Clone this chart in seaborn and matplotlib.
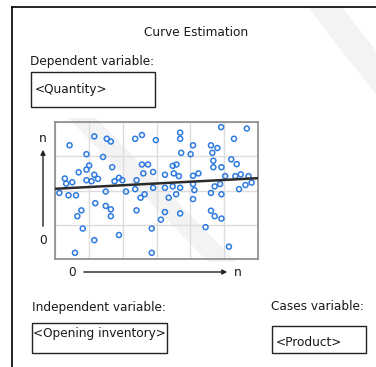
import matplotlib
matplotlib.use("Agg")
import matplotlib.pyplot as plt
import numpy as np
import pandas as pd
import seaborn as sns
from matplotlib.patches import Rectangle, FancyArrowPatch, Polygon

# scatter points (grid units: 6 columns x 4 rows)
opening_inventory = [
    0.43, 1.16, 1.53, 1.65, 2.37, 2.57, 2.98, 3.70, 3.70, 4.91, 5.67, 5.29,
    0.93, 1.42, 3.73, 4.08, 4.01, 4.61, 4.80, 4.65, 5.21, 4.68, 5.37,
    1.01, 0.93, 1.69, 0.70, 1.16, 1.08, 1.27, 0.93, 0.29, 0.33, 0.51,
    0.13, 0.40, 0.62, 1.76, 1.89, 1.99, 2.57, 2.75, 2.61, 2.90, 2.41,
    3.25, 3.48, 3.59, 3.51, 3.66, 4.08, 4.24, 4.68, 4.92, 5.03, 5.33,
    5.49, 5.72, 5.81, 5.63, 5.44, 4.88, 4.72, 4.08, 4.12, 4.61, 4.92,
    4.08, 1.50, 2.10, 2.37, 2.65, 2.53, 2.90, 3.25, 3.36, 3.48, 3.58,
    3.70, 1.19, 1.50, 1.65, 1.65, 0.78, 0.66, 2.41, 3.25, 3.13, 3.70,
    4.61, 4.72, 4.92, 0.82, 1.16, 1.89, 2.86, 4.45, 0.59, 2.86, 5.14,
]
quantity = [
    3.32, 3.58, 3.51, 3.43, 3.51, 3.62, 3.47, 3.69, 3.51, 3.85, 3.81, 3.51,
    3.06, 2.98, 3.10, 3.32, 3.06, 3.32, 3.24, 3.10, 2.91, 2.87, 2.77,
    2.73, 2.61, 2.68, 2.53, 2.46, 2.27, 2.34, 2.30, 2.35, 2.20, 2.24,
    1.93, 1.86, 1.86, 2.27, 2.37, 2.30, 2.76, 2.76, 2.50, 2.54, 2.30,
    2.46, 2.72, 2.76, 2.50, 2.42, 2.43, 2.50, 2.68, 2.68, 2.42, 2.42,
    2.47, 2.42, 2.23, 2.16, 2.04, 2.19, 2.12, 2.19, 2.01, 1.93, 1.89,
    1.75, 1.97, 1.97, 2.04, 1.89, 1.79, 2.08, 2.08, 1.79, 2.12, 1.89,
    2.08, 1.63, 1.55, 1.45, 1.25, 1.42, 1.25, 1.42, 1.37, 1.15, 1.33,
    1.41, 1.25, 1.18, 0.89, 0.55, 0.70, 0.89, 0.93, 0.18, 0.18, 0.36,
]
# fitted line, read at both ends of the plot
fit_x = [0, 6]
fit_y = [2.05, 2.36]

W, H = 376, 367


def fx(x):
    return x / W


def fy(y):
    return 1 - y / H


df = pd.DataFrame({"x": opening_inventory, "y": quantity})

fig = plt.figure(figsize=(W / 100, H / 100), dpi=100)
fig.patch.set_facecolor("white")

# faint watermark bands in the background
for pts in ([(308, 7), (342, 7), (376, 51), (376, 95)],
            [(68, 118), (96, 118), (236, 262), (208, 262)]):
    fig.add_artist(Polygon([(fx(a), fy(b)) for a, b in pts], closed=True,
                           transform=fig.transFigure, facecolor="#f3f3f3",
                           edgecolor="none", zorder=0))

# outer frame (top and left)
fig.add_artist(plt.Line2D([fx(12), fx(376)], [fy(7), fy(7)], color="black", lw=1.2))
fig.add_artist(plt.Line2D([fx(12), fx(12)], [fy(7), fy(367)], color="black", lw=1.2))

font = dict(family="DejaVu Sans", fontsize=8.7, color="#1a1a1a")

fig.text(fx(196), fy(33), "Curve Estimation", ha="center", va="center", **font)
fig.text(fx(30), fy(61), "Dependent variable:", ha="left", va="center", **font)
fig.text(fx(32), fy(307), "Independent variable:", ha="left", va="center", **font)
fig.text(fx(271), fy(307), "Cases variable:", ha="left", va="center", **font)

boxes = [
    (31, 72, 155, 107, "<Quantity>", 35, 90),
    (32, 323, 167, 353, "<Opening inventory>", 33, 333),
    (272, 326, 366, 353, "<Product>", 276, 343),
]
for x0, y0, x1, y1, label, tx, ty in boxes:
    fig.add_artist(Rectangle((fx(x0), fy(y1)), fx(x1) - fx(x0), fy(y0) - fy(y1),
                             transform=fig.transFigure, fill=False,
                             edgecolor="#222222", lw=1.0))
    fig.text(fx(tx), fy(ty), label, ha="left", va="center", **font)

# scatter plot area
ax = fig.add_axes([fx(55), fy(259), fx(258) - fx(55), fy(122) - fy(259)])
ax.set_facecolor("none")
sns.scatterplot(data=df, x="x", y="y", ax=ax, marker="o", s=13,
                facecolor="none", edgecolor="#2f7be0", linewidth=1.1, zorder=3)
sns.lineplot(x=fit_x, y=fit_y, ax=ax, color="#2b2b2b", lw=1.8, zorder=4)
ax.set_xlim(0, 6)
ax.set_ylim(0, 4)
ax.set_xticks(range(7))
ax.set_yticks(range(5))
ax.grid(True, color="#dcdcdc", lw=1.0)
ax.set_axisbelow(True)
ax.tick_params(length=0, labelbottom=False, labelleft=False)
ax.set_xlabel("")
ax.set_ylabel("")
for sp in ax.spines.values():
    sp.set_color("#8a8a8a")
    sp.set_linewidth(1.2)

# axis hints
fig.text(fx(43), fy(139), "n", ha="center", va="center", **font)
fig.text(fx(43), fy(240), "0", ha="center", va="center", **font)
fig.text(fx(72), fy(272), "0", ha="center", va="center", **font)
fig.text(fx(238), fy(272), "n", ha="center", va="center", **font)
fig.add_artist(FancyArrowPatch((fx(43), fy(229)), (fx(43), fy(147)),
                               transform=fig.transFigure, arrowstyle="-|>",
                               mutation_scale=7, color="#222222", lw=1.0))
fig.add_artist(FancyArrowPatch((fx(81), fy(272)), (fx(230), fy(272)),
                               transform=fig.transFigure, arrowstyle="-|>",
                               mutation_scale=7, color="#222222", lw=1.0))

fig.savefig("out.png", dpi=100)
